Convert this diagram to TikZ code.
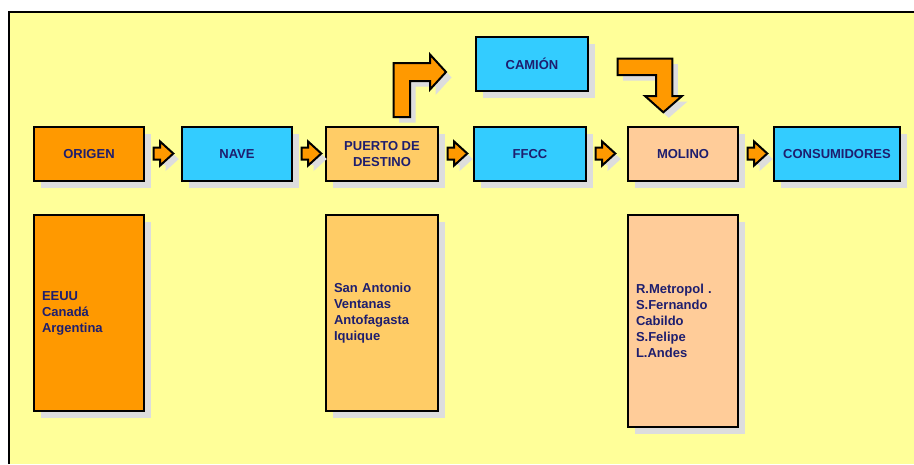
\documentclass[tikz,border=0pt]{standalone}
\usepackage{fontspec}
\setmainfont{Liberation Sans}
\usetikzlibrary{shadows,calc}
\definecolor{bgy}{HTML}{FFFF99}
\definecolor{org}{HTML}{FF9900}
\definecolor{cyn}{HTML}{33CCFF}
\definecolor{lor}{HTML}{FFCC66}
\definecolor{pch}{HTML}{FFCC99}
\definecolor{shd}{HTML}{DDDDDD}
\definecolor{txt}{RGB}{30,30,110}
\tikzset{
  box/.style={draw=black, line width=2pt, rectangle, inner sep=0pt, text=txt,
    font=\fontsize{13}{16}\selectfont\bfseries, align=center,
    drop shadow={shadow xshift=6.5pt, shadow yshift=-6.5pt, fill=shd, opacity=1}},
  listbox/.style={box, align=left, inner xsep=8pt},
  arr/.style={fill=org, draw=black, line width=2pt, line join=miter,
    drop shadow={shadow xshift=5.5pt, shadow yshift=-5.5pt, fill=shd, opacity=1}},
  smallarrow/.pic={\draw[arr] (0,-6) -- (6.6,-6) -- (6.6,-12) -- (19.8,0) -- (6.6,12) -- (6.6,6) -- (0,6) -- cycle;},
  bentup/.pic={\draw[arr] (11.5,-9) -- (11.5,-63) -- (48,-63) -- (48,-71.5) -- (64,-54) -- (48,-36.5) -- (48,-45) -- (28,-45) -- (28,-9) -- cycle;},
  bentdown/.pic={\draw[arr] (-65.3,-67.3) -- (-10.7,-67.3) -- (-10.7,-30) -- (-1,-30) -- (-19.7,-13.7) -- (-38,-30) -- (-27,-30) -- (-27,-51) -- (-65.3,-51) -- cycle;}
}
\begin{document}
\begin{tikzpicture}[x=1pt,y=-1pt]
\useasboundingbox (0,0) rectangle (914,464);
\fill[white] (0,0) rectangle (914,464);
\fill[bgy] (8.7,12) rectangle (914,464);
\draw[line width=2pt] (8.7,464) -- (8.7,12) -- (914,12);

\node[box, fill=org, minimum width=110pt, minimum height=54pt] (origen) at (89,154) {ORIGEN};
\node[box, fill=cyn, minimum width=110pt, minimum height=54pt] (nave) at (237,154) {NAVE};
\node[box, fill=lor, minimum width=112pt, minimum height=54pt] (puerto) at (382,154) {PUERTO DE\\DESTINO};
\node[box, fill=cyn, minimum width=112pt, minimum height=54pt] (ffcc) at (530,154) {FFCC};
\node[box, fill=pch, minimum width=110pt, minimum height=54pt] (molino) at (683,154) {MOLINO};
\node[box, fill=cyn, minimum width=126pt, minimum height=54pt] (consum) at (837,154) {CONSUMIDORES};
\node[box, fill=cyn, minimum width=112pt, minimum height=54pt] (camion) at (532,64) {CAMIÓN};

\node[listbox, fill=org, text width=94pt, minimum height=196pt] (origenlist) at (89,313) {EEUU\\Canadá\\Argentina};
\node[listbox, fill=lor, text width=96pt, minimum height=196pt] (puertolist) at (382,313) {San Antonio\\Ventanas\\Antofagasta\\Iquique};
\node[listbox, fill=pch, text width=94pt, minimum height=212pt] (molinolist) at (683,321) {R.Metropol .\\S.Fernando\\Cabildo\\S.Felipe\\L.Andes};

\pic at ($(origen.east)+(8.5,-0.5)$) {smallarrow};
\pic at ($(nave.east)+(8.5,-0.5)$) {smallarrow};
\pic at ($(puerto.east)+(8.5,-0.5)$) {smallarrow};
\pic at ($(ffcc.east)+(8.5,-0.5)$) {smallarrow};
\pic at ($(molino.east)+(8.5,-0.5)$) {smallarrow};
\pic at (puerto.north) {bentup};
\pic at (molino.north) {bentdown};
\end{tikzpicture}
\end{document}
